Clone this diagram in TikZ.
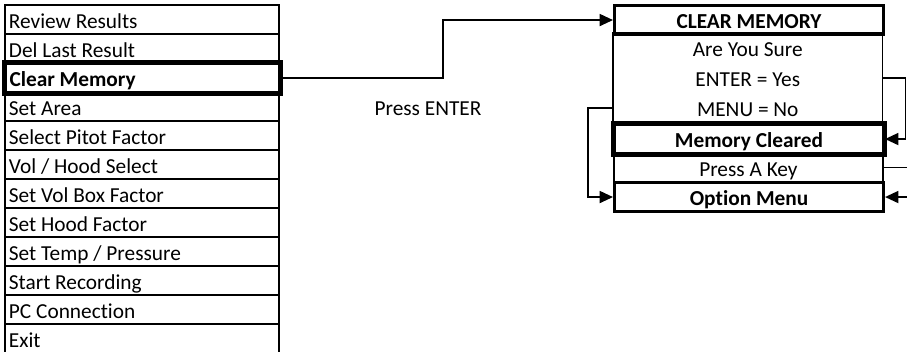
\documentclass[tikz,border=0pt]{standalone}
\usepackage{fontspec}
\setmainfont{Carlito}[Ligatures=NoCommon]
\usetikzlibrary{arrows.meta, positioning}

\tikzset{
  menurow/.style={draw, line width=1.4pt, anchor=north west, minimum height=29*0.75pt,
    text height=13pt, text depth=0pt, inner xsep=3pt, inner ysep=0pt,
    font=\fontsize{16}{18}\selectfont},
  selrow/.style={menurow, line width=2.3pt, font=\fontsize{16}{18}\selectfont\bfseries},
  screenrow/.style={anchor=north west, minimum height=29*0.75pt, minimum width=269*0.75pt,
    text height=13pt, text depth=0pt, inner sep=0pt, align=center,
    font=\fontsize{16}{18}\selectfont},
  screenbox/.style={screenrow, draw, line width=1.4pt},
  screenhead/.style={screenbox, line width=2.3pt, font=\fontsize{16}{18}\selectfont\bfseries},
  conn/.style={line width=1.3pt},
  connarrow/.style={conn, -{Triangle[length=10pt, width=9pt]}}
}

\begin{document}
\begin{tikzpicture}[x=0.75pt, y=-0.75pt]
  \useasboundingbox (0,0) rectangle (907,352);
  % Option menu list
  \foreach \txt/\sty [count=\i] in {Review Results/menurow, Del Last Result/menurow,
      Clear Memory/selrow, Set Area/menurow, Select Pitot Factor/menurow,
      {Vol / Hood Select}/menurow, Set Vol Box Factor/menurow, Set Hood Factor/menurow,
      {Set Temp / Pressure}/menurow, Start Recording/menurow, PC Connection/menurow, Exit/menurow}
    \node[\sty] (m\i) at (4,{4+29*(\i-1)}) {\makebox[199.5pt][l]{\txt}};
  \draw[line width=2.3pt] (m3.north west) rectangle (m3.south east);
  % Clear memory screen
  \node[screenhead] (cm) at (613,4) {CLEAR MEMORY};
  \node[screenrow, minimum height=30*0.75pt] (q1) at (613,33) {Are You Sure};
  \node[screenrow, minimum height=30*0.75pt] (q2) at (613,63) {ENTER = Yes};
  \node[screenrow, minimum height=30*0.75pt] (q3) at (613,93) {MENU = No};
  \draw[line width=1.4pt] (q1.north west) rectangle (q3.south east);
  \node[screenhead] (mc) at (613,123) {Memory Cleared};
  \node[screenbox] (pk) at (613,152) {Press A Key};
  \node[screenhead] (om) at (613,181) {Option Menu};
  \draw[line width=2.3pt] (mc.north west) rectangle (mc.south east);
  % Press ENTER
  \coordinate (bend) at (443,0);
  \draw[connarrow] (m3.east) -| (bend |- cm.west) -- (cm.west);
  \node[font=\fontsize{16}{18}\selectfont] (lbl) at (428,109) {Press ENTER};
  % Yes / No / any key
  \draw[connarrow] (q2.east) -- ++(23,0) |- (mc.east);
  \draw[connarrow] (pk.east) -- ++(30,0) |- (om.east);
  \draw[connarrow] (q3.west) -- ++(-25,0) |- (om.west);
\end{tikzpicture}
\end{document}
